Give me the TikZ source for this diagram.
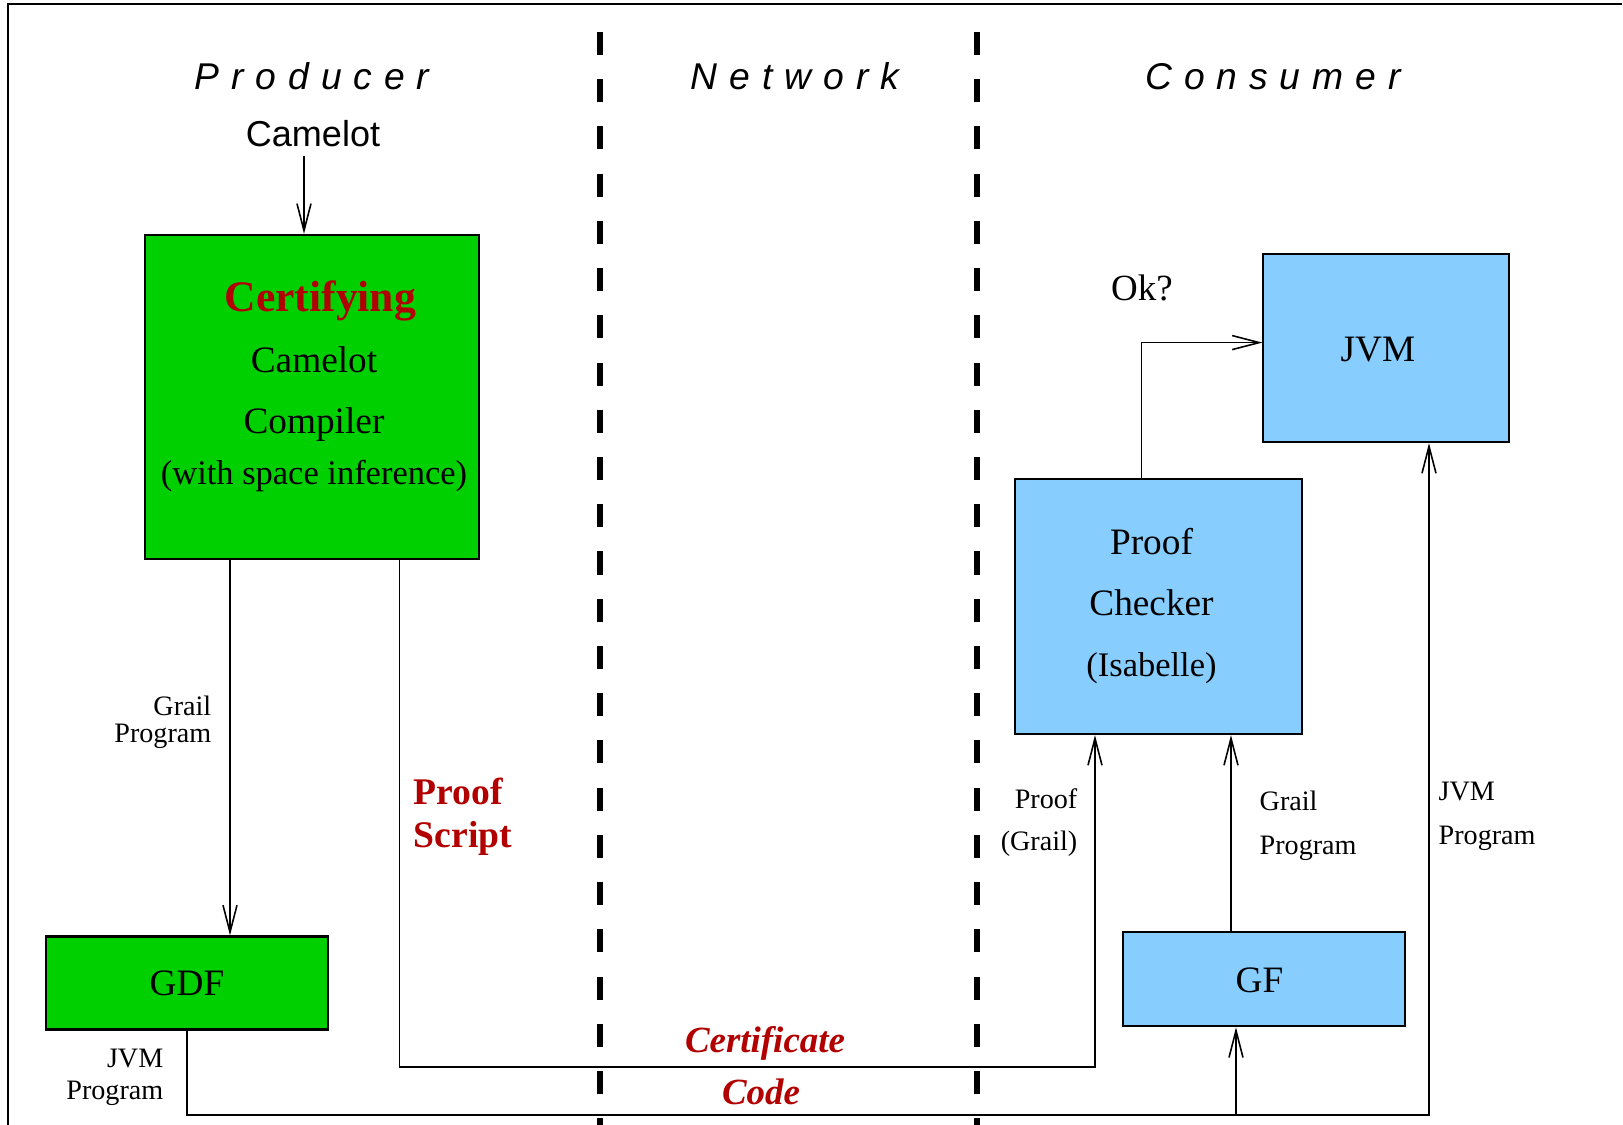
\documentclass[tikz,border=0pt]{standalone}
\usepackage{fontspec}
\setmainfont{Liberation Serif}
\newfontfamily\sansfam{Liberation Sans}
\newfontfamily\headfam[LetterSpace=32]{Liberation Sans}
\usepackage{xcolor}
\usetikzlibrary{arrows.meta}

\definecolor{compgreen}{RGB}{0,208,0}
\definecolor{checkblue}{RGB}{135,206,255}
\definecolor{certred}{RGB}{178,0,0}

\begin{document}
\begin{tikzpicture}[x=0.01cm, y=-0.01cm,
  every node/.style={inner sep=0pt},
  greenbox/.style={draw, fill=compgreen, line width=0.6pt},
  bluebox/.style={draw, fill=checkblue, line width=0.6pt},
  boxtext/.style={font=\fontsize{10.6}{17.4}\selectfont, align=center},
  smalltext/.style={font=\fontsize{8}{7.6}\selectfont},
  labeltext/.style={font=\fontsize{8}{12}\selectfont},
  redtext/.style={text=certred, font=\fontsize{10.7}{12.2}\selectfont\bfseries},
  heading/.style={font=\headfam\itshape\fontsize{10.6}{12}\selectfont, anchor=base},
  flow/.style={line width=0.45pt, -{Straight Barb[length=2.7mm,width=1.4mm]}},
  border/.style={dash pattern=on 0.23cm off 0.242cm, line width=1.5pt}]

\useasboundingbox (0,0) rectangle (1623,1125);

% frame and the two network borders
\draw[line width=0.4pt] (8,1125) -- (8,4) -- (1622,4);
\draw[border] (600,32) -- (600,1125);
\draw[border] (977,32) -- (977,1125);

\node[heading] (producer) at (312,90) {Producer};
\node[heading] (network) at (795,90) {Network};
\node[heading] (consumer) at (1273,90) {Consumer};

\node[font=\sansfam\fontsize{10.25}{12}\selectfont, anchor=base] (camelot) at (313,147) {Camelot};

% boxes
\node[greenbox, minimum width=3.34cm, minimum height=3.24cm] (comp) at (312,397) {};
\node[boxtext] (comptext) at (314,386)
  {\textcolor{certred}{\fontsize{12.4}{17.4}\selectfont\bfseries\hspace*{3.6pt}Certifying}\\
   Camelot\\ Compiler\\[-3pt]
   {\fontsize{9.8}{14}\selectfont (with space inference)}};
\node[greenbox, boxtext, minimum width=2.825cm, minimum height=0.93cm] (gdf) at (187,983) {GDF};

\node[bluebox, minimum width=2.87cm, minimum height=2.55cm] (checker) at (1158.5,606.5) {};
\node[boxtext] (checktext) at (1151.5,606)
  {Proof\\ Checker\\ {\fontsize{9.8}{14}\selectfont (Isabelle)}};
\node[bluebox, minimum width=2.45cm, minimum height=1.88cm] (jvm) at (1386,348) {};
\node[boxtext] (jvmtext) at (1378,350) {JVM};
\node[bluebox, minimum width=2.825cm, minimum height=0.945cm] (gf) at (1264,979) {};
\node[boxtext] (gftext) at (1259.5,980) {GF};

% columns and rows of the connectors
\coordinate (gpx) at (230,0);
\coordinate (psx) at (399.5,0);
\coordinate (certx) at (1095,0);
\coordinate (gfin) at (1236,0);
\coordinate (gfout) at (1231,0);
\coordinate (jvmx) at (1429,0);
\coordinate (certy) at (0,1067);
\coordinate (codey) at (0,1115);
\coordinate (okc) at (1141.5,342.6);

% connectors
\draw[flow] ([xshift=-0.09cm, yshift=-0.08cm]camelot.south) -- ([xshift=-0.09cm]camelot.south |- comp.north);
\draw[flow] (gpx |- comp.south) -- (gpx |- gdf.north);
\draw[flow] (psx |- comp.south) -- (psx |- certy) -- (certx |- certy) -- (certx |- checker.south);
\draw[flow] (gdf.south) -- (gdf.south |- codey) -- (jvmx |- codey) -- (jvmx |- jvm.south);
\draw[flow] (gfin |- codey) -- (gfin |- gf.south);
\draw[flow] (gfout |- gf.north) -- (gfout |- checker.south);
\draw[flow] (okc |- checker.north) -- (okc) -- (okc -| jvm.west);

% labels
\node[smalltext, align=right, anchor=east] (grailL) at (212,722) {Grail\\Program};
\node[font=\fontsize{8}{9.2}\selectfont, align=right, anchor=east] (jvmL) at (164,1077.5) {JVM\\Program};
\node[redtext, align=left, anchor=west] (script) at (413,816.5) {Proof\\Script};
\node[text=certred, font=\fontsize{10.5}{12}\selectfont\bfseries\itshape, anchor=base] (cert) at (765,1053) {Certificate};
\node[text=certred, font=\fontsize{10.5}{12}\selectfont\bfseries\itshape, anchor=base] (code) at (761,1105) {Code};
\node[labeltext, align=right, anchor=east] (proofgrail) at (1078,822.5) {Proof\\(Grail)};
\node[font=\fontsize{8}{12.5}\selectfont, align=left, anchor=west] (grailR) at (1259,825.5) {Grail\\Program};
\node[font=\fontsize{8}{12.5}\selectfont, align=left, anchor=west] (jvmR) at (1438,816) {JVM\\Program};
\node[font=\fontsize{10.5}{12}\selectfont, anchor=base] (ok) at (1142,301) {Ok?};
\end{tikzpicture}
\end{document}
